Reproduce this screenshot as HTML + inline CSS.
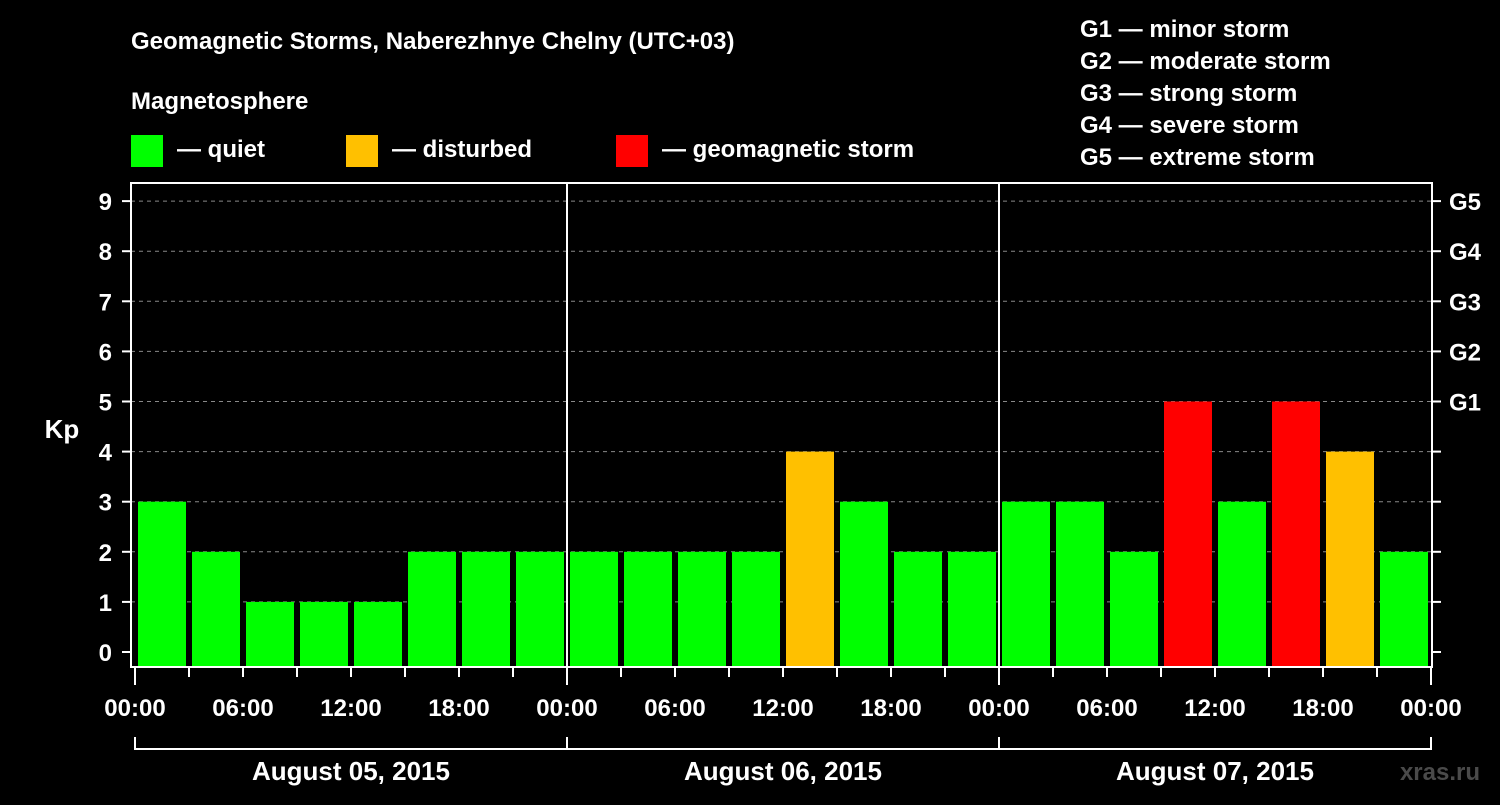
<!DOCTYPE html>
<html><head><meta charset="utf-8"><style>
body{margin:0;background:#000;width:1500px;height:800px;overflow:hidden;font-family:"Liberation Sans",Arial,sans-serif}
svg text{font-family:"Liberation Sans",Arial,sans-serif;font-weight:bold;fill:#fff}
</style></head><body>
<svg id="c" width="1500" height="800">
<text x="131" y="49" font-size="24">Geomagnetic Storms, Naberezhnye Chelny (UTC+03)</text>
<text x="131" y="109" font-size="24">Magnetosphere</text>
<g>
<rect x="131" y="135" width="32" height="32" fill="#00ff00"/>
<text x="177" y="157" font-size="24">— quiet</text>
<rect x="346" y="135" width="32" height="32" fill="#ffc000"/>
<text x="392" y="157" font-size="24">— disturbed</text>
<rect x="616" y="135" width="32" height="32" fill="#ff0000"/>
<text x="662" y="157" font-size="24">— geomagnetic storm</text>
</g>
<g font-size="24">
<text x="1080" y="37">G1 — minor storm</text>
<text x="1080" y="69">G2 — moderate storm</text>
<text x="1080" y="101">G3 — strong storm</text>
<text x="1080" y="133">G4 — severe storm</text>
<text x="1080" y="165">G5 — extreme storm</text>
</g>
<text x="62" y="438" font-size="26" text-anchor="middle">Kp</text>
<text x="1480" y="780" font-size="24" text-anchor="end" fill="#555" style="fill:#4a4a4a">xras.ru</text>
<g id="grid"></g><g id="bars"></g><g id="axes"></g>
</svg>
<script>
const kpValues=[3,2,1,1,1,2,2,2, 2,2,2,2,4,3,2,2, 3,3,2,5,3,5,4,2];
const yTicks=[0,1,2,3,4,5,6,7,8,9];
const gLabels=["G1","G2","G3","G4","G5"];
const dayLabels=["August 05, 2015","August 06, 2015","August 07, 2015"];
const hourLabels=["00:00","06:00","12:00","18:00"];
const NS="http://www.w3.org/2000/svg";
const L=131,R=1432,T=183,B=667,X0=135,DAY=432;
const yS=v=>652-v*50.1;
const xS=h=>X0+h*DAY/24;
function mk(tag,attrs,parent,txt){const e=document.createElementNS(NS,tag);for(const k in attrs)e.setAttribute(k,attrs[k]);if(txt!=null)e.textContent=txt;document.getElementById(parent).appendChild(e);return e;}
const col=v=>v>=5?"#ff0000":v===4?"#ffc000":"#00ff00";
yTicks.forEach(v=>{
 if(v>0){const g=mk('line',{x1:L,x2:R,y1:yS(v),y2:yS(v),stroke:'#888','stroke-dasharray':'4,4','stroke-width':1},'grid');
 
 }
 const t=mk('text',{x:112,y:yS(v)+9,'font-size':24,'text-anchor':'end'},'axes',String(v));
 
 
 const tl=mk('line',{x1:122,x2:L,y1:yS(v),y2:yS(v),stroke:'#fff','stroke-width':2},'axes');
 
 
 const tr=mk('line',{x1:R,x2:1441,y1:yS(v),y2:yS(v),stroke:'#fff','stroke-width':2},'axes');
 
 
});
gLabels.forEach((g,i)=>{
 const t=mk('text',{x:1449,y:yS(5+i)+9,'font-size':24},'axes',g);
 
 
});
kpValues.forEach((v,i)=>{
 const r=mk('rect',{x:xS(i*3)+3,y:yS(v),width:48,height:B-yS(v),fill:col(v)},'bars');
 
 
});
// day separators
for(let d=1;d<dayLabels.length;d++){
 const l=mk('line',{x1:xS(d*24),x2:xS(d*24),y1:T,y2:B,stroke:'#fff','stroke-width':2},'axes');
 
 
}
const f=mk('rect',{x:L,y:T,width:R-L,height:B-T,fill:'none',stroke:'#fff','stroke-width':2},'axes');


for(let h=0;h<=24*dayLabels.length;h+=3){
 const big=h%24===0;
 const l=mk('line',{x1:xS(h),x2:xS(h),y1:B,y2:B+(big?18:10),stroke:'#fff','stroke-width':2},'axes');
 
 
 if(h%6===0){const t=mk('text',{x:xS(h),y:716,'font-size':24,'text-anchor':'middle'},'axes',hourLabels[(h%24)/6]);
 
 }
}
const br=mk('path',{d:`M${xS(0)} 737V749H${xS(72)}V737`+[1,2].map(d=>`M${xS(d*24)} 737V749`).join(''),fill:'none',stroke:'#fff','stroke-width':2},'axes');


dayLabels.forEach((d,i)=>{
 const t=mk('text',{x:xS(i*24+12),y:780,'font-size':26,'text-anchor':'middle'},'axes',d);
 
 
});
</script>
</body></html>
